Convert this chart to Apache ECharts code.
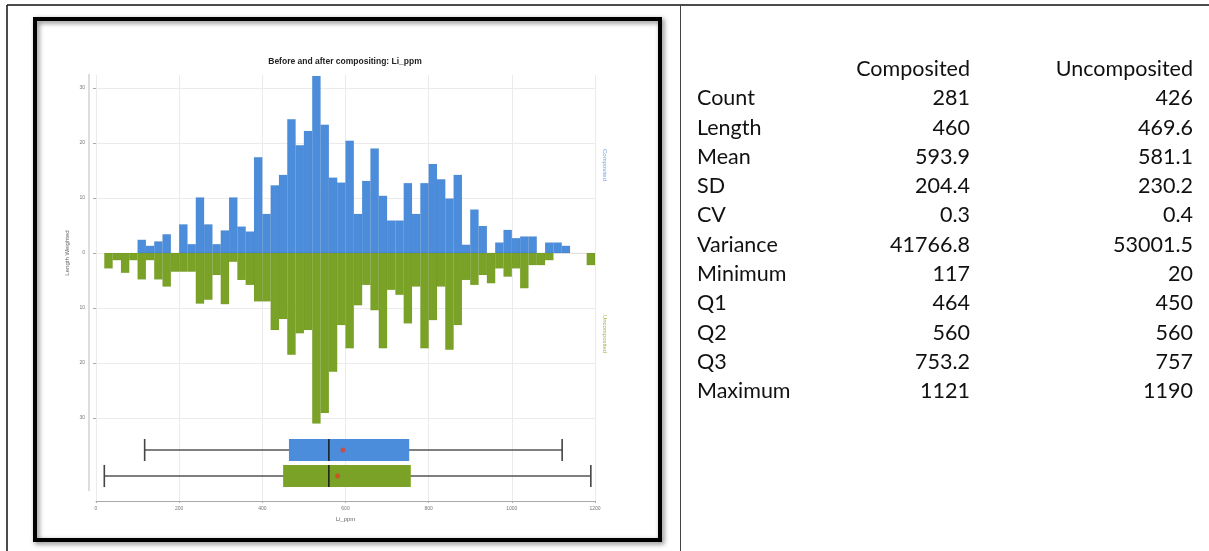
<!DOCTYPE html>
<html><head><meta charset="utf-8">
<script src="https://cdn.jsdelivr.net/npm/echarts@6.0.0/dist/echarts.min.js"></script>
<style>html,body{margin:0;padding:0;background:#fff}#c{width:1209px;height:551px}</style>
</head><body><div id="c"></div>
<script>
// ---------- DATA ----------
const chartTitle = 'Before and after compositing: Li_ppm';
const seriesNames = ['Composited', 'Uncomposited'];
const xTicks = [0, 200, 400, 600, 800, 1000, 1200];
const binWidth = 20;
const compBins = [100,120,140,160,180,200,220,240,260,280,300,320,340,360,380,400,420,440,460,480,500,520,540,560,580,600,620,640,660,680,700,720,740,760,780,800,820,840,860,880,900,920,940,960,980,1000,1020,1040,1060,1080,1100,1120];
const compVals = [2.4,1.3,2.1,3.4,0,5.2,1.6,10.1,5.2,1.6,4.1,10.1,4.8,3.9,17.4,7.1,12.3,14.2,24.3,19.6,22.2,32.2,23.3,13.7,12.8,20.4,7.1,13.1,19.0,10.4,5.9,5.9,12.7,7.1,12.7,16.2,13.4,9.9,14.2,1.5,7.9,4.9,0,1.9,4.2,2.7,3.0,3.0,0,1.9,1.9,1.3];
const uncBins = [20,40,60,80,100,120,140,160,180,200,220,240,260,280,300,320,340,360,380,400,420,440,460,480,500,520,540,560,580,600,620,640,660,680,700,720,740,760,780,800,820,840,860,880,900,920,940,960,980,1000,1020,1040,1060,1080,1100,1120,1140,1160,1180];
const uncVals = [2.8,1.3,3.6,1.3,4.8,1.3,4.8,6.1,3.4,3.4,3.4,9.2,8.5,4.0,9.3,1.6,4.9,5.8,8.8,8.8,14.0,12.0,18.5,14.6,14.0,31.0,29.1,21.6,13.1,17.3,9.5,5.8,10.4,17.3,6.7,7.6,12.8,6.1,17.3,12.2,6.1,17.6,13.1,4.9,5.8,4.0,5.5,2.8,4.3,2.8,6.4,2.2,2.2,1.3,0,0,0,0,2.2];

const statNames = ['Count','Length','Mean','SD','CV','Variance','Minimum','Q1','Q2','Q3','Maximum'];
const compStats = ['281','460','593.9','204.4','0.3','41766.8','117','464','560','753.2','1121'];
const uncStats  = ['426','469.6','581.1','230.2','0.4','53001.5','20','450','560','757','1190'];

// ---------- STYLE ----------
const BLUE = '#4c8ddb', GREEN = '#7aa226';
const chartFont = 'Liberation Sans';
const tableFont = 'Lato';

function stat(arr, name){ return parseFloat(arr[statNames.indexOf(name)]); }
const boxData = [compStats, uncStats].map((s, i) => [i, stat(s,'Minimum'), stat(s,'Q1'), stat(s,'Q2'), stat(s,'Q3'), stat(s,'Maximum')]);
const meanData = [compStats, uncStats].map((s, i) => [stat(s,'Mean'), i]);

function histRender(color){
  return function(params, api){
    const x0 = api.value(0), v = api.value(1);
    const a = api.coord([x0, v]);
    const b = api.coord([x0 + binWidth, 0]);
    return {type:'rect', shape:{x:a[0], y:Math.min(a[1],b[1]), width:b[0]-a[0], height:Math.abs(b[1]-a[1])},
      style:{fill:color, stroke:'rgba(0,0,0,0.06)', lineWidth:0.6}};
  };
}

const chart = echarts.init(document.getElementById('c'), null, {renderer:'canvas'});

// table graphics
const tableEls = [];
const rowY0 = 69, rowStep = 29.3;
const tFont = '21.5px ' + tableFont;
tableEls.push({type:'text', x:970, y:rowY0, style:{text:seriesNames[0], align:'right', verticalAlign:'middle', font:tFont, fill:'#111'}});
tableEls.push({type:'text', x:1193, y:rowY0, style:{text:seriesNames[1], align:'right', verticalAlign:'middle', font:tFont, fill:'#111'}});
statNames.forEach((n, i) => {
  const y = rowY0 + rowStep*(i+1);
  tableEls.push({type:'text', x:697, y:y, style:{text:n, align:'left', verticalAlign:'middle', font:tFont, fill:'#111'}});
  tableEls.push({type:'text', x:970, y:y, style:{text:compStats[i], align:'right', verticalAlign:'middle', font:tFont, fill:'#111'}});
  tableEls.push({type:'text', x:1193, y:y, style:{text:uncStats[i], align:'right', verticalAlign:'middle', font:tFont, fill:'#111'}});
});

const option = {
  animation:false,
  backgroundColor:'#fff',
  grid:[
    {left:96, top:75, width:499, height:426},
    {left:96, top:88, width:499, height:330},
    {left:96, top:437, width:499, height:52}
  ],
  xAxis:[
    {gridIndex:0, type:'value', min:xTicks[0], max:xTicks[xTicks.length-1], interval:xTicks[1]-xTicks[0],
      axisLine:{lineStyle:{color:'#aaa'}}, axisTick:{length:2, lineStyle:{color:'#aaa'}},
      axisLabel:{fontSize:5, color:'#777', margin:5, fontFamily:chartFont, formatter:v=>String(v)},
      splitLine:{lineStyle:{color:'#ebebeb'}},
      name:'Li_ppm', nameLocation:'middle', nameGap:15, nameTextStyle:{fontSize:6, color:'#666', fontFamily:chartFont}},
    {gridIndex:1, type:'value', min:0, max:1200, show:false},
    {gridIndex:2, type:'value', min:0, max:1200, show:false}
  ],
  yAxis:[
    {gridIndex:0, type:'value', show:false, splitLine:{show:false}},
    {gridIndex:1, type:'value', min:-30, max:30, interval:10, offset:7,
      axisLine:{show:false}, axisTick:{show:true, length:3, lineStyle:{color:'#aaa'}},
      axisLabel:{fontSize:5, color:'#777', margin:4, fontFamily:chartFont, formatter:v=>String(Math.abs(v))},
      splitLine:{lineStyle:{color:'#ebebeb'}},
      name:'Length Weighted', nameLocation:'middle', nameGap:19, nameTextStyle:{fontSize:6, color:'#666', fontFamily:chartFont}},
    {gridIndex:2, type:'category', data:seriesNames, inverse:true, show:false}
  ],
  series:[
    {type:'custom', name:seriesNames[0], xAxisIndex:1, yAxisIndex:1, encode:{x:0, y:1},
      data:compBins.map((b,i)=>[b, compVals[i]]), renderItem:histRender(BLUE), z:3},
    {type:'custom', name:seriesNames[1], xAxisIndex:1, yAxisIndex:1, encode:{x:0, y:1},
      data:uncBins.map((b,i)=>[b, -uncVals[i]]), renderItem:histRender(GREEN), z:3},
    {type:'custom', xAxisIndex:2, yAxisIndex:2, encode:{x:[1,2,3,4,5], y:0}, data:boxData, z:4,
      renderItem:function(params, api){
        const c = api.value(0);
        const pMin = api.coord([api.value(1), c]);
        const pQ1 = api.coord([api.value(2), c]);
        const pMed = api.coord([api.value(3), c]);
        const pQ3 = api.coord([api.value(4), c]);
        const pMax = api.coord([api.value(5), c]);
        const band = api.size([0,1])[1];
        const h = band*0.85, y = pMin[1];
        const col = c === 0 ? BLUE : GREEN;
        const ls = {stroke:'#555', lineWidth:1.4};
        return {type:'group', children:[
          {type:'line', shape:{x1:pMin[0], y1:y, x2:pMax[0], y2:y}, style:ls},
          {type:'line', shape:{x1:pMin[0], y1:y-h/2, x2:pMin[0], y2:y+h/2}, style:{stroke:'#444', lineWidth:1.6}},
          {type:'line', shape:{x1:pMax[0], y1:y-h/2, x2:pMax[0], y2:y+h/2}, style:{stroke:'#444', lineWidth:1.6}},
          {type:'rect', shape:{x:pQ1[0], y:y-h/2, width:pQ3[0]-pQ1[0], height:h}, style:{fill:col}},
          {type:'line', shape:{x1:pMed[0], y1:y-h/2, x2:pMed[0], y2:y+h/2}, style:{stroke:'#1a1a1a', lineWidth:1.5}}
        ]};
      }},
    {type:'scatter', xAxisIndex:2, yAxisIndex:2, data:meanData, symbolSize:5, itemStyle:{color:'#e2402a'}, z:5}
  ],
  graphic:{elements:[
    {type:'line', shape:{x1:7, y1:5, x2:1209, y2:5}, style:{stroke:'#111', lineWidth:1.5}, z:10},
    {type:'line', shape:{x1:7, y1:5, x2:7, y2:551}, style:{stroke:'#111', lineWidth:1.5}, z:10},
    {type:'line', shape:{x1:680.5, y1:5, x2:680.5, y2:551}, style:{stroke:'#444', lineWidth:1}, z:10},
    {type:'rect', shape:{x:35, y:19, width:625, height:521}, style:{fill:null, stroke:'#000', lineWidth:4, shadowBlur:5, shadowColor:'rgba(0,0,0,0.5)', shadowOffsetX:2, shadowOffsetY:2}, z:10},
    {type:'line', shape:{x1:89, y1:74, x2:89, y2:491}, style:{stroke:'#bbb', lineWidth:1}, z:2},
    {type:'text', x:345, y:62, style:{text:chartTitle, align:'center', verticalAlign:'middle', font:'bold 8.5px '+chartFont, fill:'#222'}, z:10},
    {type:'text', x:605, y:165, rotation:-Math.PI/2, style:{text:seriesNames[0], align:'center', verticalAlign:'middle', font:'6px '+chartFont, fill:'#6fa6e6'}, z:10},
    {type:'text', x:605, y:334, rotation:-Math.PI/2, style:{text:seriesNames[1], align:'center', verticalAlign:'middle', font:'6px '+chartFont, fill:'#9ab84a'}, z:10}
  ].concat(tableEls)}
};
chart.setOption(option);
</script></body></html>
